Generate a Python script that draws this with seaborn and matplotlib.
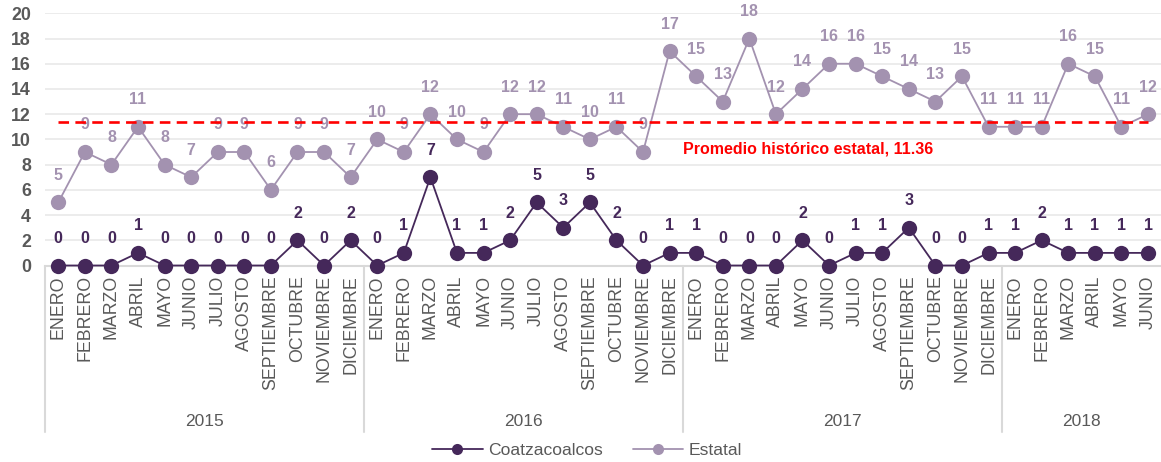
import matplotlib
matplotlib.use("Agg")
import matplotlib.pyplot as plt
import matplotlib.transforms as mtransforms
from matplotlib.lines import Line2D
import seaborn as sns
import pandas as pd
import numpy as np

months_2015 = ["ENERO", "FEBRERO", "MARZO", "ABRIL", "MAYO", "JUNIO", "JULIO",
               "AGOSTO", "SEPTIEMBRE", "OCTUBRE", "NOVIEMBRE", "DICIEMBRE"]
months = months_2015 * 3 + months_2015[:6]
years = ["2015", "2016", "2017", "2018"]
year_counts = [12, 12, 12, 6]

coatza = [0, 0, 0, 1, 0, 0, 0, 0, 0, 2, 0, 2,
          0, 1, 7, 1, 1, 2, 5, 3, 5, 2, 0, 1,
          1, 0, 0, 0, 2, 0, 1, 1, 3, 0, 0, 1,
          1, 2, 1, 1, 1, 1]
estatal = [5, 9, 8, 11, 8, 7, 9, 9, 6, 9, 9, 7,
           10, 9, 12, 10, 9, 12, 12, 11, 10, 11, 9, 17,
           15, 13, 18, 12, 14, 16, 16, 15, 14, 13, 15, 11,
           11, 11, 16, 15, 11, 12]
promedio = 11.36
promedio_label = "Promedio histórico estatal, 11.36"

c_coatza = "#45285A"
c_estatal = "#A392B0"
c_text = "#595959"
c_grid = "#EBEBEB"
c_sep = "#D9D9D9"

sns.set_theme(style="white")
plt.rcParams['font.family'] = ['Liberation Sans', 'DejaVu Sans']

W, H = 1161, 462
fig = plt.figure(figsize=(W / 100, H / 100), dpi=100)
ax = fig.add_axes([45 / W, 1 - 265.5 / H, (1161.3 - 45) / W, (265.5 - 13.3) / H])

n = len(months)
idx = np.arange(n)
df = pd.DataFrame({"idx": np.concatenate([idx, idx]),
                   "valor": coatza + estatal,
                   "serie": ["Coatzacoalcos"] * n + ["Estatal"] * n})

sns.lineplot(data=df, x="idx", y="valor", hue="serie",
             palette={"Coatzacoalcos": c_coatza, "Estatal": c_estatal},
             marker="o", markersize=11, markeredgewidth=0, linewidth=1.3,
             ax=ax, legend=False, zorder=3)
for ln in ax.lines:
    ln.set_clip_on(False)

# average line
ax.plot([0, n - 1], [promedio, promedio], color="#FF0000", lw=1.9,
        dashes=(4, 2.4), zorder=5, clip_on=False)
ax.text(23.5, 9.2, promedio_label, color="#FF0000", fontsize=11.5,
        fontweight="bold", ha="left", va="center", zorder=6)

# data labels
for i in range(n):
    ax.annotate(str(estatal[i]), (i, estatal[i]), xytext=(0, 19.5),
                textcoords="offset points", ha="center", va="center",
                color=c_estatal, fontsize=11.5, fontweight="bold", zorder=4)
    ax.annotate(str(coatza[i]), (i, coatza[i]), xytext=(0, 19.5),
                textcoords="offset points", ha="center", va="center",
                color=c_coatza, fontsize=11.5, fontweight="bold", zorder=4)

ax.set_xlim(-0.5, n - 0.5)
ax.set_ylim(0, 20)
ax.set_yticks(range(0, 21, 2))
ax.yaxis.grid(True, color=c_grid, lw=1.3)
ax.set_axisbelow(True)
ax.set_xticks(idx)
ax.set_xticklabels(months, rotation=90, fontsize=12.8, color=c_text,
                   ha="center", va="top")
ax.tick_params(axis="x", length=0, pad=7)
ax.tick_params(axis="y", length=0, pad=10, labelsize=12.8, labelcolor=c_text)
for lab in ax.get_yticklabels():
    lab.set_fontweight("bold")
ax.set_xlabel("")
ax.set_ylabel("")
for s in ["top", "right", "left"]:
    ax.spines[s].set_visible(False)
ax.spines["bottom"].set_color(c_sep)
ax.spines["bottom"].set_linewidth(1.5)
ax.spines["bottom"].set_zorder(1)

# year groups
trans = mtransforms.blended_transform_factory(ax.transData, ax.transAxes)
y_bottom = (265.5 - 432) / (265.5 - 13.3)
y_year = (265.5 - 421) / (265.5 - 13.3)
start = 0
for yr, cnt in zip(years, year_counts):
    ax.plot([start - 0.5, start - 0.5], [0, y_bottom], color=c_sep, lw=1.5,
            transform=trans, clip_on=False, zorder=1)
    ax.text(start + (cnt - 1) / 2, y_year, yr, transform=trans, ha="center",
            va="center", fontsize=12.5, color=c_text)
    start += cnt

# legend
handles = [Line2D([], [], color=c_coatza, marker="o", markersize=8,
                  markeredgewidth=0, lw=1.3),
           Line2D([], [], color=c_estatal, marker="o", markersize=8,
                  markeredgewidth=0, lw=1.3)]
fig.legend(handles, ["Coatzacoalcos", "Estatal"], loc="center",
           bbox_to_anchor=(587 / W, 1 - 450 / H), ncol=2, frameon=False,
           fontsize=12.6, labelcolor=c_text, handlelength=2.9,
           handletextpad=0.3, columnspacing=1.7, borderpad=0, borderaxespad=0)

fig.savefig("out.png", dpi=100)
